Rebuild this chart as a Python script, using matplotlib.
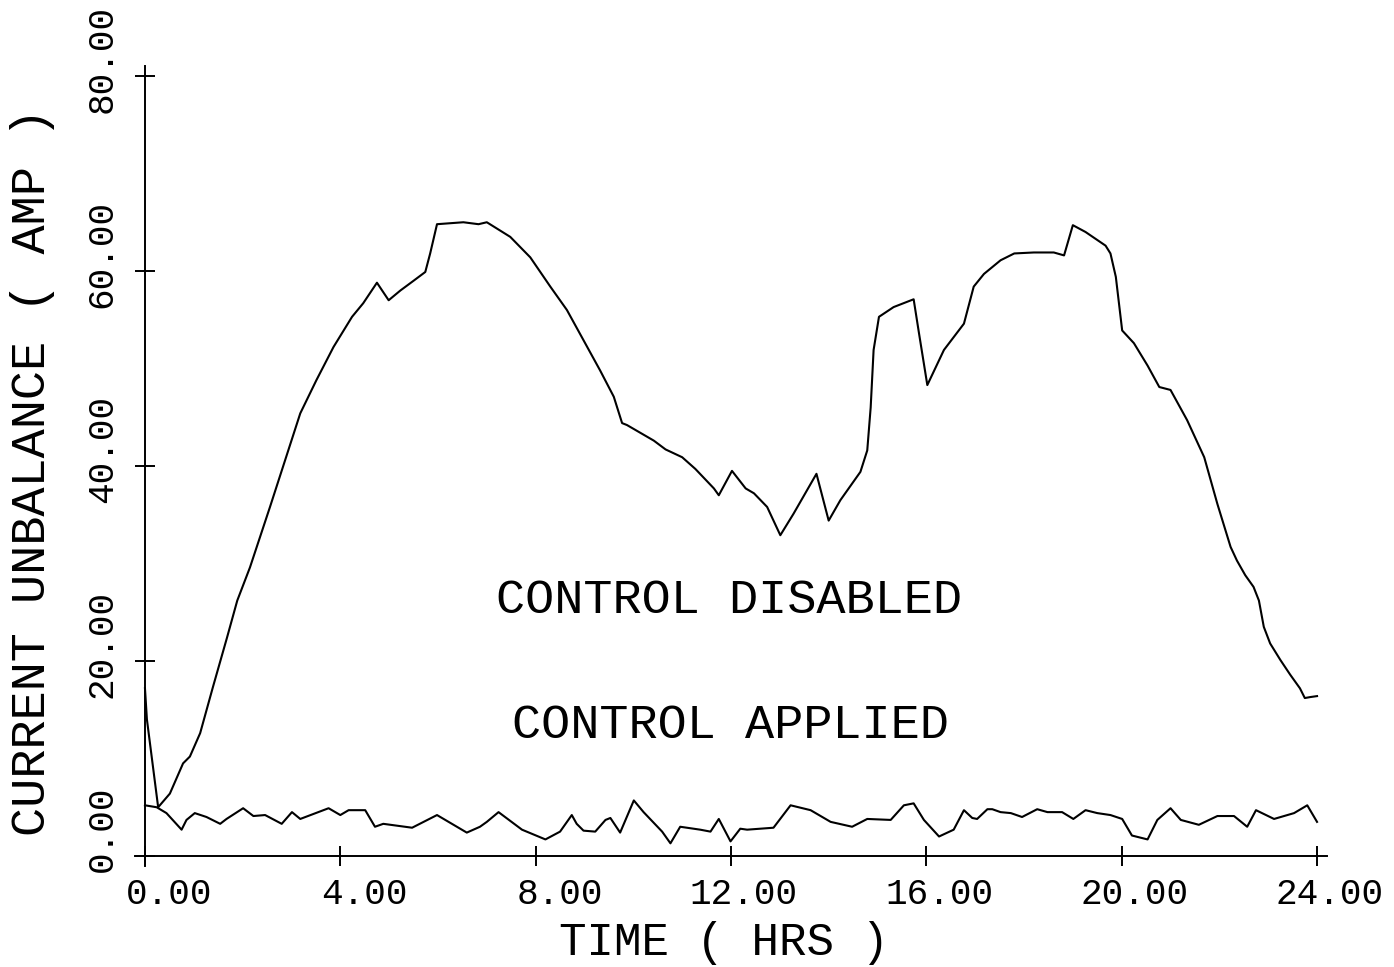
import matplotlib
matplotlib.use("Agg")
import matplotlib.pyplot as plt
from matplotlib.transforms import ScaledTranslation

# hourly current unbalance
hrs_off = [0.00, 0.04, 0.27, 0.51, 0.78, 0.92, 1.13, 1.39, 1.68, 1.89, 2.15, 2.56,
           3.18, 3.51, 3.86, 4.24, 4.47, 4.75, 4.99, 5.23, 5.50, 5.74, 5.84, 5.98,
           6.52, 6.83, 7.00, 7.48, 7.89, 8.30, 8.64, 8.98, 9.32, 9.60, 9.77, 9.87,
           10.42, 10.66, 11.00, 11.27, 11.65, 11.75, 12.02, 12.30, 12.47, 12.74,
           13.01, 13.28, 13.75, 14.00, 14.24, 14.65, 14.79, 14.86, 14.92, 15.03,
           15.33, 15.74, 15.85, 16.02, 16.36, 16.77, 16.97, 17.18, 17.52, 17.80,
           18.20, 18.61, 18.82, 19.00, 19.26, 19.67, 19.77, 19.88, 20.01, 20.25,
           20.53, 20.77, 21.00, 21.34, 21.69, 21.96, 22.23, 22.36, 22.53, 22.70,
           22.81, 22.91, 23.04, 23.25, 23.45, 23.65, 23.75, 23.86, 24.00]
amp_off = [17.2, 14.0, 5.0, 6.4, 9.5, 10.2, 12.6, 17.3, 22.4, 26.2, 29.6, 35.8,
           45.4, 48.8, 52.2, 55.3, 56.7, 58.8, 57.0, 58.0, 59.0, 59.9, 61.8, 64.8,
           65.0, 64.8, 65.0, 63.5, 61.4, 58.4, 56.0, 52.9, 49.8, 47.1, 44.4, 44.2,
           42.6, 41.7, 40.9, 39.7, 37.7, 37.0, 39.5, 37.7, 37.2, 35.8,
           32.9, 35.1, 39.2, 34.4, 36.5, 39.4, 41.6, 46.0, 51.9, 55.3,
           56.3, 57.1, 53.6, 48.3, 51.9, 54.6, 58.4, 59.7, 61.1, 61.8,
           61.9, 61.9, 61.6, 64.7, 64.0, 62.6, 61.8, 59.4, 53.9, 52.6,
           50.3, 48.1, 47.8, 44.7, 40.9, 36.1, 31.7, 30.3, 28.8, 27.6,
           26.2, 23.5, 21.8, 20.1, 18.6, 17.2, 16.2, 16.3, 16.4]

hrs_on = [0.00, 0.24, 0.44, 0.75, 0.85, 1.02, 1.26, 1.54, 1.67, 2.01, 2.22, 2.46,
          2.80, 3.01, 3.18, 3.76, 4.00, 4.17, 4.51, 4.71, 4.88, 5.47, 5.98, 6.59,
          6.86, 7.00, 7.24, 7.72, 8.20, 8.50, 8.74, 8.84, 8.98, 9.22, 9.43, 9.53,
          9.73, 10.01, 10.21, 10.59, 10.76, 10.96, 11.37, 11.58, 11.75, 11.99,
          12.19, 12.33, 12.87, 13.22, 13.63, 14.04, 14.48, 14.79, 15.27, 15.54,
          15.74, 15.95, 16.26, 16.56, 16.77, 16.94, 17.04, 17.25, 17.35, 17.52,
          17.73, 17.96, 18.27, 18.48, 18.78, 19.01, 19.26, 19.50, 19.77, 20.01,
          20.21, 20.53, 20.73, 21.00, 21.21, 21.58, 21.96, 22.30, 22.57, 22.75,
          23.12, 23.53, 23.80, 24.00]
amp_on = [5.2, 5.0, 4.4, 2.7, 3.7, 4.4, 4.0, 3.3, 3.8, 4.9, 4.1, 4.2,
          3.3, 4.5, 3.8, 4.9, 4.2, 4.7, 4.7, 3.0, 3.3, 2.9, 4.2, 2.4,
          3.0, 3.5, 4.5, 2.7, 1.7, 2.5, 4.2, 3.3, 2.6, 2.5, 3.7, 3.9,
          2.4, 5.7, 4.5, 2.5, 1.3, 3.0, 2.7, 2.5, 3.8, 1.5,
          2.8, 2.7, 2.9, 5.2, 4.7, 3.5, 3.0, 3.8, 3.7, 5.2,
          5.4, 3.7, 2.0, 2.7, 4.7, 3.9, 3.8, 4.8, 4.8, 4.5,
          4.4, 4.0, 4.8, 4.5, 4.5, 3.8, 4.7, 4.4, 4.2, 3.8,
          2.1, 1.7, 3.7, 4.9, 3.7, 3.2, 4.1, 4.1, 3.0, 4.7,
          3.8, 4.4, 5.2, 3.5]

xticks = [0, 4, 8, 12, 16, 20, 24]
xlabels = ["0.00", "4.00", "8.00", "12.00", "16.00", "20.00", "24.00"]
yticks = [0, 20, 40, 60, 80]
ylabels = ["0.00", "20.00", "40.00", "60.00", "80.00"]

FONT = "Liberation Mono"

fig = plt.figure(figsize=(13.94, 9.67), dpi=100)
ax = fig.add_axes([135.2 / 1394, 101.25 / 967, 1191.6 / 1394, 799.5 / 967])

ax.plot(hrs_off, amp_off, color="black", lw=1.5)
ax.plot(hrs_on, amp_on, color="black", lw=1.5)

ax.set_xlim(-0.2, 24.2)
ax.set_ylim(-1, 81)

for side in ["top", "right"]:
    ax.spines[side].set_visible(False)
ax.spines["left"].set_position(("data", 0))
ax.spines["bottom"].set_position(("data", 0))
ax.spines["left"].set_linewidth(1.4)
ax.spines["bottom"].set_linewidth(1.4)

ax.tick_params(direction="inout", length=14.4, width=1.4)
ax.tick_params(axis="x", pad=8)
ax.tick_params(axis="y", pad=11)

ax.set_xticks(xticks, labels=xlabels, fontfamily=FONT, fontsize=26)
ax.set_yticks(yticks, labels=ylabels, fontfamily=FONT, fontsize=26, rotation=90)

# plotter labels sit right-justified past the tick
for lbl in ax.get_xticklabels():
    lbl.set_horizontalalignment("right")
    lbl.set_transform(lbl.get_transform() + ScaledTranslation(0.67, 0, fig.dpi_scale_trans))
for lbl in ax.get_yticklabels():
    lbl.set_verticalalignment("top")
    lbl.set_transform(lbl.get_transform() + ScaledTranslation(0, 0.71, fig.dpi_scale_trans))

fig.text(724 / 1394, 1 - 943 / 967, "TIME ( HRS )", fontfamily=FONT, fontsize=33,
         ha="center", va="center")
fig.text(33 / 1394, 1 - 472 / 967, "CURRENT UNBALANCE ( AMP )", fontfamily=FONT,
         fontsize=35, rotation=90, ha="center", va="center")

ax.text(11.96, 26.2, "CONTROL DISABLED", fontfamily=FONT, fontsize=35,
        ha="center", va="center")
ax.text(11.99, 13.4, "CONTROL APPLIED", fontfamily=FONT, fontsize=35,
        ha="center", va="center")

fig.savefig("out.png", dpi=100)
